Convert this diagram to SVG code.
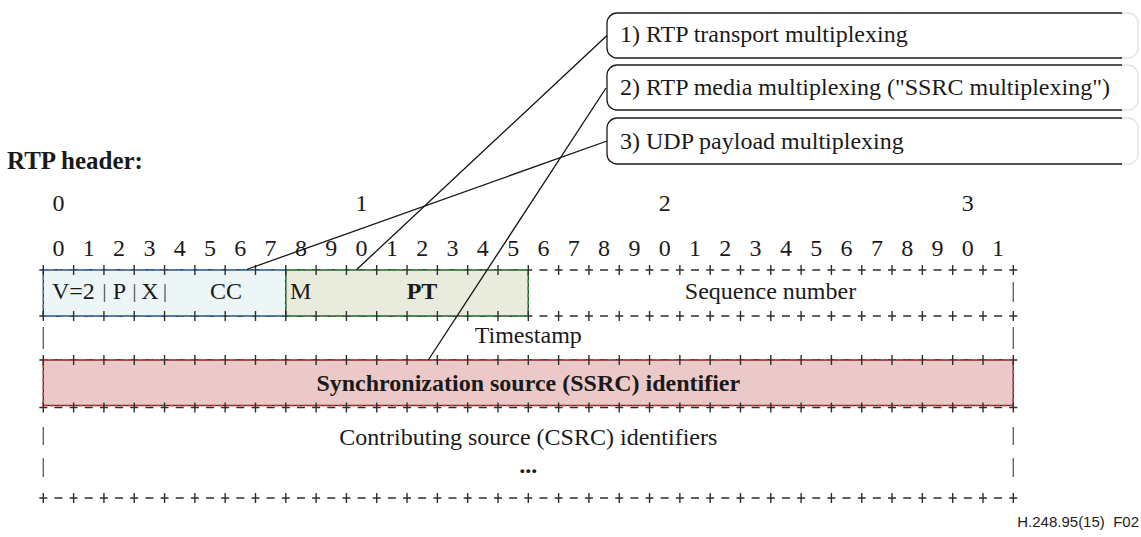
<svg xmlns="http://www.w3.org/2000/svg" xmlns:xlink="http://www.w3.org/1999/xlink" width="1141" height="537" viewBox="0 0 1141 537">
  <style>
    text { font-family: "Liberation Serif", "Times New Roman", serif; font-size: 24px; fill: #1a1a1a; }
    .b { font-weight: bold; }
    .mid { text-anchor: middle; }
    .grid { stroke: #2e2e2e; stroke-width: 1.4; fill: none; }
    .dash { stroke: #2e2e2e; stroke-width: 1.4; stroke-dasharray: 8 7.156; }
    .bar { stroke: #666; stroke-width: 1.4; }
    .frame { stroke: #333; stroke-width: 1.3; }
    .callout { fill: #fff; stroke: #1a1a1a; stroke-width: 1.3; }
    .fade { fill: none; stroke: #e2e2e2; stroke-width: 1.3; }
    .conn { stroke: #111; stroke-width: 1.3; fill: none; }
  </style>
  <defs>
    <!-- row border dashes: the "-" between bit boundaries -->
    <line id="rowdash" class="dash" x1="39.3" y1="0" x2="1017.3" y2="0"/>
    <!-- row border ticks: the "+" upright at every bit boundary -->
    <path id="rowticks" class="grid" d="M43.3 -5v10m30.3125-10v10m30.3125-10v10m30.3125-10v10m30.3125-10v10m30.3125-10v10m30.3125-10v10m30.3125-10v10m30.3125-10v10m30.3125-10v10m30.3125-10v10m30.3125-10v10m30.3125-10v10m30.3125-10v10m30.3125-10v10m30.3125-10v10m30.3125-10v10m30.3125-10v10m30.3125-10v10m30.3125-10v10m30.3125-10v10m30.3125-10v10m30.3125-10v10m30.3125-10v10m30.3125-10v10m30.3125-10v10m30.3125-10v10m30.3125-10v10m30.3125-10v10m30.3125-10v10m30.3125-10v10m30.3125-10v10m30.3125-10v10"/>
  </defs>

  <rect width="1141" height="537" fill="#fff"/>

  <text id="title" class="b" x="7" y="169" style="font-size:25px">RTP header:</text>

  <!-- bit ruler -->
  <g id="ruler">
    <text class="mid" x="58.5 361.6 664.7 967.8" y="211">0123</text>
    <text class="mid" x="58.5 88.8 119.1 149.4 179.7 210.0 240.3 270.6 301.0 331.3 361.6 391.9 422.2 452.5 482.8 513.2 543.5 573.8 604.1 634.4 664.7 695.0 725.3 755.6 786.0 816.3 846.6 876.9 907.2 937.5 967.8 998.1" y="256">01234567890123456789012345678901</text>
  </g>

  <!-- row border dashes -->
  <g id="grid-dashes">
    <use xlink:href="#rowdash" y="270"/>
    <use xlink:href="#rowdash" y="316"/>
    <use xlink:href="#rowdash" y="360"/>
    <use xlink:href="#rowdash" y="407.5"/>
    <use xlink:href="#rowdash" y="498"/>
  </g>

  <!-- first word: V, P, X, CC -->
  <g id="field-vpxcc">
    <rect x="43.3" y="270" width="242.5" height="46" fill="#edf6f6" class="frame"/>
    <rect x="43.3" y="270" width="242.5" height="46" fill="none" stroke="#3b82d8" stroke-width="1.5" stroke-dasharray="4 3"/>
    <text x="52" y="299">V=2</text>
    <line class="bar" x1="104.5" y1="284" x2="104.5" y2="302"/>
    <text class="mid" x="119.5" y="299">P</text>
    <line class="bar" x1="134.5" y1="284" x2="134.5" y2="302"/>
    <text class="mid" x="150" y="299">X</text>
    <line class="bar" x1="165" y1="284" x2="165" y2="302"/>
    <text class="mid" x="226" y="299">CC</text>
  </g>

  <!-- M and payload type -->
  <g id="field-mpt">
    <rect x="285.8" y="270" width="242.5" height="46" fill="#e9ecdc" class="frame"/>
    <rect x="285.8" y="270" width="242.5" height="46" fill="none" stroke="#2e9e35" stroke-width="1.5" stroke-dasharray="4 3"/>
    <text x="290" y="299">M</text>
    <text class="mid b" x="422" y="299">PT</text>
  </g>

  <g id="field-seq">
    <text class="mid" x="770.5" y="299">Sequence number</text>
    <line class="bar" x1="1013.3" y1="282" x2="1013.3" y2="302"/>
  </g>

  <g id="field-ts">
    <line class="bar" x1="43.3" y1="327" x2="43.3" y2="349"/>
    <text class="mid" x="528.3" y="343">Timestamp</text>
    <line class="bar" x1="1013.3" y1="327" x2="1013.3" y2="349"/>
  </g>

  <g id="field-ssrc">
    <rect x="43.3" y="360" width="970" height="45.5" fill="#ecc9c9" class="frame"/>
    <rect x="43.3" y="360" width="970" height="45.5" fill="none" stroke="#e0302e" stroke-width="1.5" stroke-dasharray="4 3"/>
    <text class="mid b" x="528.3" y="391">Synchronization source (SSRC) identifier</text>
  </g>

  <g id="field-csrc">
    <line class="bar" x1="43.3" y1="427" x2="43.3" y2="445"/>
    <line class="bar" x1="43.3" y1="458" x2="43.3" y2="477"/>
    <line class="bar" x1="1013.3" y1="427" x2="1013.3" y2="445"/>
    <line class="bar" x1="1013.3" y1="458" x2="1013.3" y2="477"/>
    <text class="mid" x="528.3" y="445">Contributing source (CSRC) identifiers</text>
    <text class="mid b" x="528.3" y="473">...</text>
  </g>

  <!-- row border ticks, drawn over the field fills -->
  <g id="grid-ticks">
    <use xlink:href="#rowticks" y="270"/>
    <use xlink:href="#rowticks" y="316"/>
    <use xlink:href="#rowticks" y="360"/>
    <use xlink:href="#rowticks" y="407.5"/>
    <use xlink:href="#rowticks" y="498"/>
  </g>

  <!-- callouts -->
  <g id="node-1">
    <path class="fade" d="M1122 13H1128A10 10 0 0 1 1138 23V48A10 10 0 0 1 1128 58H1122"/>
    <path class="callout" d="M1122 13H617A10 10 0 0 0 607 23V48A10 10 0 0 0 617 58H1122"/>
    <text x="620" y="42">1) RTP transport multiplexing</text>
  </g>
  <g id="node-2">
    <path class="fade" d="M1122 65H1128A10 10 0 0 1 1138 75V100A10 10 0 0 1 1128 110H1122"/>
    <path class="callout" d="M1122 65H617A10 10 0 0 0 607 75V100A10 10 0 0 0 617 110H1122"/>
    <text x="620" y="95">2) RTP media multiplexing ("SSRC multiplexing")</text>
  </g>
  <g id="node-3">
    <path class="fade" d="M1122 118H1128A10 10 0 0 1 1138 128V154A10 10 0 0 1 1128 164H1122"/>
    <path class="callout" d="M1122 118H617A10 10 0 0 0 607 128V154A10 10 0 0 0 617 164H1122"/>
    <text x="620" y="149">3) UDP payload multiplexing</text>
  </g>

  <g id="connectors">
    <line class="conn" x1="607" y1="35.5" x2="356.7" y2="269.5"/>
    <line class="conn" x1="606" y1="88" x2="428.3" y2="360"/>
    <line class="conn" x1="607" y1="141" x2="246.7" y2="269.5"/>
  </g>

  <text id="ref" x="1139" y="527" style="font-family:'Liberation Sans',Arial,sans-serif;font-size:15px;text-anchor:end;white-space:pre;fill:#222">H.248.95(15)  F02</text>
</svg>
